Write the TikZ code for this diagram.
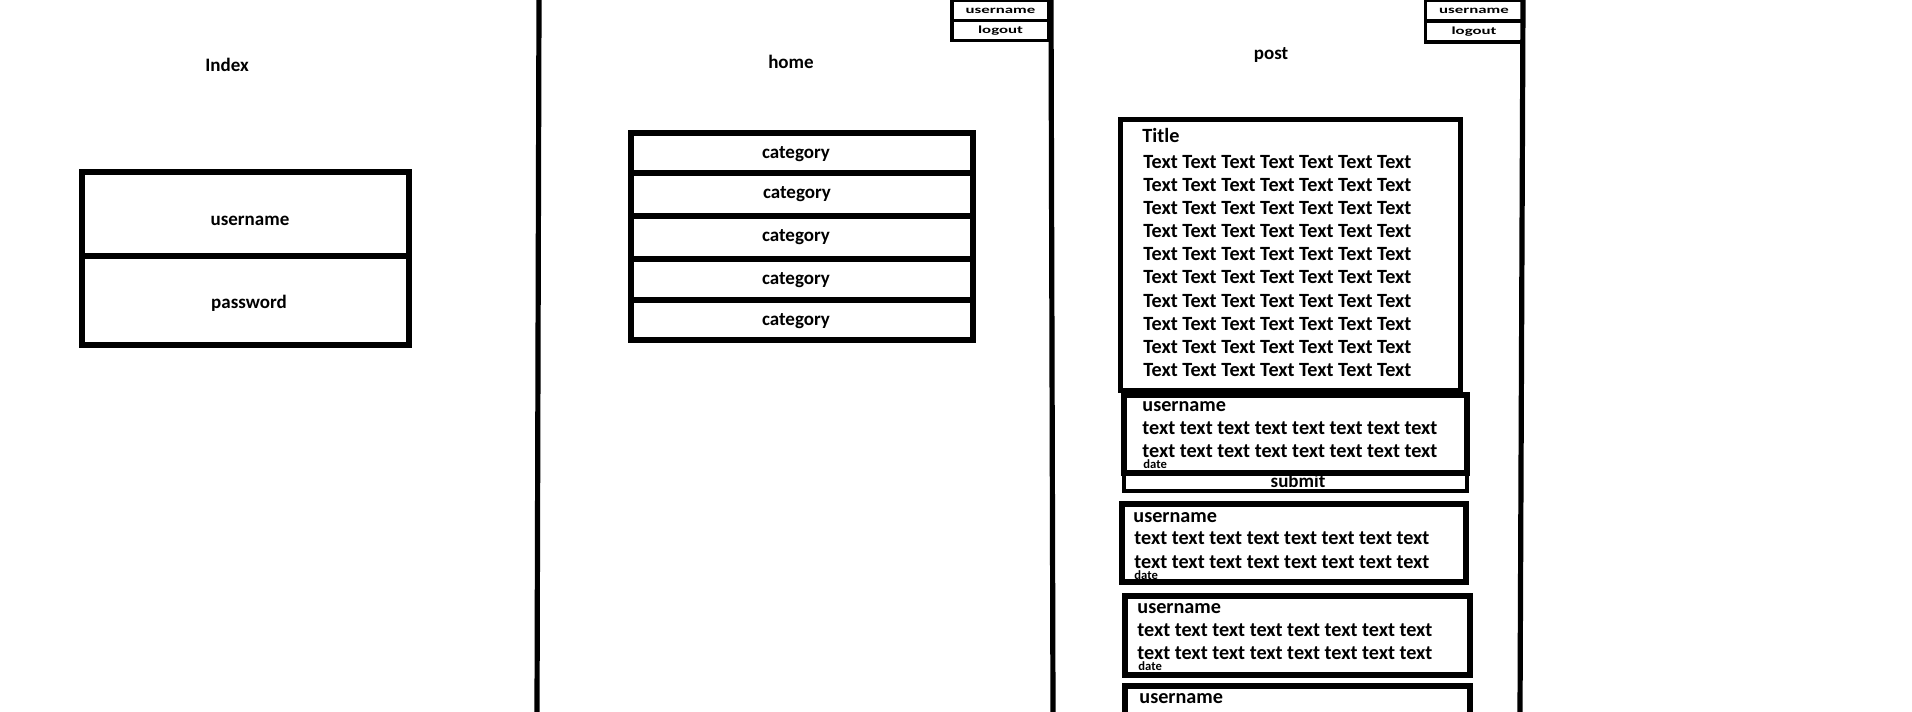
\documentclass[tikz,border=0pt]{standalone}
\usepackage{fontspec}
\setmainfont{Carlito}
\newcommand\lblfont{\fontsize{9.5}{11}\selectfont\bfseries}
\newcommand\bodyfont{\fontsize{10.1}{11}\selectfont\bfseries}
\newcommand\smfont{\fontsize{6.0}{7}\selectfont\bfseries}
\newcommand\datefont{\fontsize{6.3}{7}\selectfont\bfseries}
\begin{document}
\begin{tikzpicture}[x=0.5pt,y=-0.5pt,
  frame/.style={draw, line width=2.6pt, inner sep=0pt, font=\lblfont},
  smallbox/.style={draw, line width=1.6pt, inner sep=0pt, minimum width=48.5pt, font=\smfont},
  lbl/.style={inner sep=0pt, font=\lblfont},
  txt/.style={inner sep=0pt, font=\bodyfont, anchor=west},
  datetxt/.style={inner sep=0pt, font=\datefont, anchor=west},
  panel/.style={line width=2.6pt}]
\useasboundingbox (0,0) rectangle (1912,712);
\clip (0,0) rectangle (1912,712);
\fill[white] (0,0) rectangle (1912,712);

% panel separators
\coordinate (v1t) at (539,0);   \coordinate (v1b) at (537,712);
\coordinate (v2t) at (1051,0);  \coordinate (v2b) at (1053,712);
\coordinate (v3t) at (1523,0);  \coordinate (v3b) at (1520,712);
\draw[panel] (v1t) -- (v1b);
\draw[panel] (v2t) -- (v2b);
\draw[panel] (v3t) -- (v3b);

% Index page
\node[lbl] (indexlbl) at (227,65) {Index};
\node[frame, minimum width=163.5pt, minimum height=42pt] (iuser) at (245.5,214) {};
\node[frame, minimum width=163.5pt, minimum height=44.5pt] (ipass) at (245.5,300.5) {};
\node[lbl] (iusert) at (250,221) {username};
\node[lbl] (ipasst) at (249,303) {password};

% home page
\node[lbl] (homelbl) at (791,62) {home};
\node[frame, minimum width=171pt, minimum height=20pt]   (cat1) at (802,153)   {};
\node[frame, minimum width=171pt, minimum height=21.5pt] (cat2) at (802,194.5) {};
\node[frame, minimum width=171pt, minimum height=21.5pt] (cat3) at (802,237.5) {};
\node[frame, minimum width=171pt, minimum height=20.5pt] (cat4) at (802,279.5) {};
\node[frame, minimum width=171pt, minimum height=20pt]   (cat5) at (802,320)   {};
\node[lbl] (cat1t) at (796,154) {category};
\node[lbl] (cat2t) at (797,194) {category};
\node[lbl] (cat3t) at (796,237) {category};
\node[lbl] (cat4t) at (796,280) {category};
\node[lbl] (cat5t) at (796,321) {category};
\node[smallbox, minimum height=10pt] (huser) at (1000.5,10.5) {\scalebox{1.4}[0.9]{username}};
\node[smallbox, minimum height=10pt] (hlogout) at (1000.5,30.5) {\scalebox{1.4}[0.9]{logout}};

% post page
\node[lbl] (postlbl) at (1271,55) {post};
\node[smallbox, minimum height=10.5pt] (puser) at (1474,10.5) {\scalebox{1.4}[0.9]{username}};
\node[smallbox, minimum height=10.5pt] (plogout) at (1474,31.5) {\scalebox{1.4}[0.9]{logout}};

\node[frame, minimum width=170pt, minimum height=135.5pt] (titlebox) at (1290.5,255) {};
\node[txt] (title) at (1142,135) {Title};
\foreach \i in {0,...,9}
  \node[txt] (tl\i) at (1143,{162+23.1*\i}) {Text Text Text Text Text Text Text};

% comment with submit
\node[frame, minimum width=171.5pt, minimum height=39pt] (c1) at (1295.5,434) {};
\node[frame, minimum width=171.5pt, minimum height=8.5pt, line width=2pt] (submit) at (1295.5,482) {};
\node[lbl] (submittxt) at (1298,481) {submit};
\node[txt] (c1u) at (1142,407) {username};
\node[txt] (c1a) at (1142,428) {text text text text text text text text};
\node[txt] (c1b) at (1142,451) {text text text text text text text text};
\node[datetxt] (c1d) at (1143,464) {date};

% comment 2
\node[frame, minimum width=172pt, minimum height=39pt] (c2) at (1294,543) {};
\node[txt] (c2u) at (1133,518) {username};
\node[txt] (c2a) at (1134,538) {text text text text text text text text};
\node[txt] (c2b) at (1134,562) {text text text text text text text text};
\node[datetxt] (c2d) at (1134,575) {date};

% comment 3
\node[frame, minimum width=172.5pt, minimum height=39.5pt] (c3) at (1297.5,635.5) {};
\node[txt] (c3u) at (1137,609) {username};
\node[txt] (c3a) at (1137,630) {text text text text text text text text};
\node[txt] (c3b) at (1137,653) {text text text text text text text text};
\node[datetxt] (c3d) at (1138,666) {date};

% comment 4 (cut off)
\node[frame, minimum width=172.5pt, minimum height=24pt] (c4) at (1297.5,710) {};
\node[txt] (c4u) at (1139,699) {username};
\end{tikzpicture}
\end{document}
